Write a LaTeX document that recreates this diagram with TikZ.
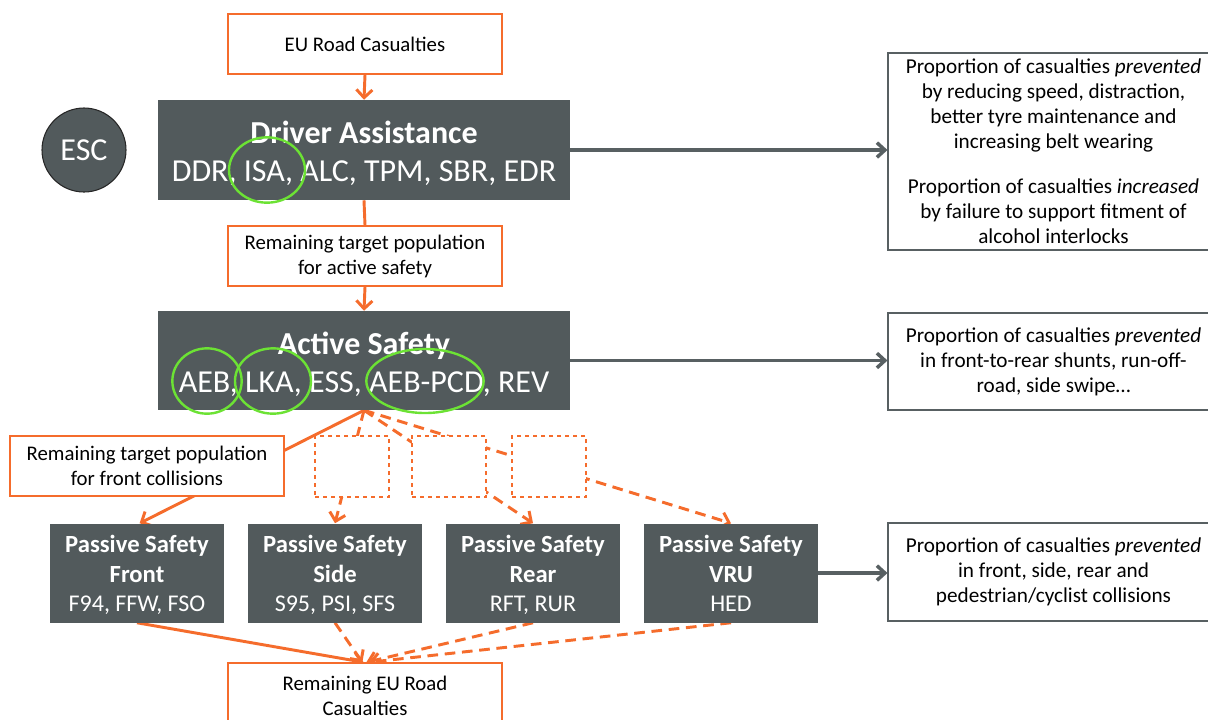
\documentclass[tikz,border=0pt]{standalone}
\usepackage{fontspec}
\setmainfont{Carlito}
\usetikzlibrary{arrows.meta,shapes.geometric}
\definecolor{orng}{RGB}{245,108,44}
\definecolor{dgrey}{RGB}{82,90,92}
\definecolor{agrey}{RGB}{88,96,98}
\definecolor{grn}{RGB}{108,226,52}
\pgfdeclarelayer{bg}\pgfdeclarelayer{paper}\pgfsetlayers{paper,bg,main}
\begin{document}
\begin{tikzpicture}[x=0.75pt,y=-0.75pt,
 obox/.style={draw=orng,line width=1.1pt,fill=white,minimum width=205.5pt,minimum height=45pt,align=center,inner sep=0pt,font=\fontsize{15.6}{18.75}\selectfont},
 dbox/.style={fill=dgrey,text=white,align=center,inner sep=0pt},
 pbox/.style={dbox,minimum width=130.5pt,minimum height=74.25pt,font=\fontsize{18.5}{22.5}\selectfont},
 rbox/.style={draw=agrey,line width=0.8pt,fill=white,minimum width=248.25pt,align=center,inner sep=0pt,font=\fontsize{15.9}{18.75}\selectfont},
 dashbox/.style={draw=orng,dashed,line width=1.1pt,fill=white,minimum width=55.5pt,minimum height=45.75pt},
 oarr/.style={draw=orng,line width=2.2pt,-{Straight Barb[length=6pt,width=12pt]}},
 oline/.style={draw=orng,line width=2.2pt},
 odash/.style={oarr,dash pattern=on 8pt off 5pt},
 garr/.style={draw=agrey,line width=2.6pt,-{Straight Barb[length=6pt,width=11pt]}},
 gell/.style={draw=grn,line width=1.8pt}
]
\clip (0,0) rectangle (1208,719);
\begin{pgfonlayer}{paper}
\fill[white] (0,0) rectangle (1208,719);
\end{pgfonlayer}

% top chain
\node[obox] (eu) at (365,44) {EU Road Casualties};
\node[dbox,minimum width=309pt,minimum height=75pt,font=\fontsize{24}{28.5}\selectfont] (da) at (364,150) {\mbox{}\\[-6.5pt]\textbf{Driver Assistance}\\DDR, ISA, ALC, TPM, SBR, EDR};
\node[circle,fill=dgrey,draw=black!85,line width=0.8pt,minimum size=63pt,text=white,inner sep=0pt,font=\fontsize{24}{24}\selectfont] (esc) at (84,150) {ESC};
\node[obox] (rta) at (365,256) {Remaining target population\\for active safety};
\node[dbox,minimum width=309pt,minimum height=74.25pt,font=\fontsize{24}{28.5}\selectfont] (as) at (364,360.5) {\mbox{}\\[-6.5pt]\textbf{Active Safety}\\AEB, LKA, ESS, AEB-PCD, REV};

% green highlights
\draw[gell] (267,170) ellipse [x radius=28.5pt,y radius=24.5pt];
\draw[gell] (207,381) ellipse [x radius=26pt,y radius=24.5pt];
\draw[gell] (273,381) ellipse [x radius=28.5pt,y radius=24.5pt];
\draw[gell] (425,381) ellipse [x radius=44pt,y radius=24pt];

% right boxes
\node[rbox,minimum height=147.75pt] (r1) at (1053.5,151.5) {Proportion of casualties \textit{prevented}\\by reducing speed, distraction,\\better tyre maintenance and\\increasing belt wearing\\[15pt]Proportion of casualties \textit{increased}\\by failure to support fitment of\\alcohol interlocks};
\node[rbox,minimum height=72.75pt] (r2) at (1053.5,361.5) {Proportion of casualties \textit{prevented}\\in front-to-rear shunts, run-off-\\road, side swipe\dots};
\node[rbox,minimum height=73.5pt] (r3) at (1053.5,572) {Proportion of casualties \textit{prevented}\\in front, side, rear and\\pedestrian/cyclist collisions};

% intermediate boxes
\node[obox] (rtf) at (147,466) {Remaining target population\\for front collisions};
\node[dashbox] (d1) at (352,466.5) {};
\node[dashbox] (d2) at (449,466.5) {};
\node[dashbox] (d3) at (549,466.5) {};

% passive boxes
\node[pbox] (pf) at (137,573) {\mbox{}\\[-2.5pt]\textbf{Passive Safety}\\\textbf{Front}\\[-1pt]{\fontsize{18}{21}\selectfont F94, FFW, FSO\strut}};
\node[pbox] (ps) at (335,573) {\mbox{}\\[-2.5pt]\textbf{Passive Safety}\\\textbf{Side}\\[-1pt]{\fontsize{18}{21}\selectfont S95, PSI, SFS\strut}};
\node[pbox] (pr) at (533,573) {\mbox{}\\[-2.5pt]\textbf{Passive Safety}\\\textbf{Rear}\\[-1pt]{\fontsize{18}{21}\selectfont RFT, RUR\strut}};
\node[pbox] (pv) at (731,573) {\mbox{}\\[-2.5pt]\textbf{Passive Safety}\\\textbf{VRU}\\[-1pt]{\fontsize{18}{21}\selectfont HED\strut}};

% bottom box
\node[obox,minimum height=49.5pt] (rem) at (365,696) {Remaining EU Road\\Casualties};

% connectors
\begin{pgfonlayer}{bg}
\draw[oarr] (eu.south) -- (da.north);
\draw[oline] (da.south) -- (rta.north);
\draw[oarr] (rta.south) -- (as.north);
\draw[oarr] (as.south) -- ([xshift=2pt]pf.north);
\draw[odash] (as.south) -- (ps.north);
\draw[odash] (as.south) -- (pr.north);
\draw[odash] (as.south) -- (pv.north);
\draw[oarr] (pf.south) -- ([xshift=-1pt]rem.north);
\draw[odash] (ps.south) -- ([xshift=-2pt]rem.north);
\draw[odash] (pr.south) -- ([xshift=1pt]rem.north);
\draw[odash] (pv.south) -- ([xshift=3pt]rem.north);
\end{pgfonlayer}
\draw[garr] (da.east) -- (da.east -| r1.west);
\draw[garr] (as.east) -- (as.east -| r2.west);
\draw[garr] (pv.east) -- (pv.east -| r3.west);
\end{tikzpicture}
\end{document}
